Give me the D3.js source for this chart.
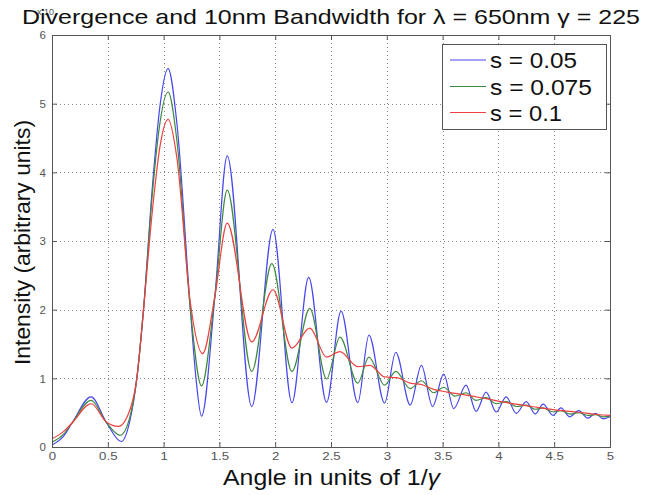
<!DOCTYPE html>
<html>
<head>
<meta charset="utf-8">
<script src="https://cdn.jsdelivr.net/npm/d3@7"></script>
<style>
  html, body { margin: 0; padding: 0; background: #fff; }
  svg { display: block; font-family: "Liberation Sans", Arial, sans-serif; }
</style>
</head>
<body>
<svg id="chart" width="646" height="495"></svg>
<script>
// Axis ticks
const xTicks = [0, 0.5, 1, 1.5, 2, 2.5, 3, 3.5, 4, 4.5, 5];
const xTickLabels = ["0", "0.5", "1", "1.5", "2", "2.5", "3", "3.5", "4", "4.5", "5"];
const yTicks = [0, 1, 2, 3, 4, 5, 6];
const yTickLabels = ["0", "1", "2", "3", "4", "5", "6"];

// Series names
const seriesNames = ["s = 0.05", "s = 0.075", "s = 0.1"];

// Intensity vs angle (units of 1/gamma), [angle, intensity]
const s005 = [
  [0, 0.03], [0.1, 0.15], [0.18, 0.35], [0.35, 0.73], [0.49, 0.35], [0.62, 0.08],
  [0.7, 0.4], [0.76, 1.0], [0.82, 2.0], [0.9, 3.8], [0.97, 5.0], [1.04, 5.51],
  [1.12, 4.7], [1.24, 2.0], [1.29, 1.0], [1.34, 0.45], [1.46, 2.2], [1.57, 4.24],
  [1.79, 0.59], [1.98, 3.17], [2.15, 0.645], [2.30, 2.47], [2.46, 0.65], [2.59, 1.98],
  [2.74, 0.645], [2.84, 1.63], [2.98, 0.64], [3.08, 1.38], [3.21, 0.61], [3.31, 1.19],
  [3.41, 0.59], [3.51, 1.06], [3.60, 0.56], [3.71, 0.90], [3.80, 0.52], [3.89, 0.80],
  [3.98, 0.51], [4.07, 0.73], [4.16, 0.49], [4.25, 0.66], [4.33, 0.48], [4.40, 0.625],
  [4.49, 0.46], [4.56, 0.57], [4.64, 0.44], [4.72, 0.53], [4.80, 0.42], [4.87, 0.49],
  [4.94, 0.41], [5.0, 0.44]
];
const s0075 = [
  [0, 0.07], [0.1, 0.18], [0.18, 0.35], [0.35, 0.68], [0.49, 0.35], [0.61, 0.17],
  [0.7, 0.45], [0.76, 1.0], [0.82, 2.0], [0.9, 3.7], [0.97, 4.75], [1.04, 5.17],
  [1.12, 4.45], [1.24, 2.0], [1.34, 0.89], [1.46, 2.2], [1.57, 3.74], [1.79, 1.10],
  [1.97, 2.67], [2.15, 1.10], [2.31, 2.02], [2.46, 0.99], [2.58, 1.60], [2.74, 0.93],
  [2.84, 1.31], [2.98, 0.90], [3.08, 1.10], [3.21, 0.85], [3.31, 0.965], [3.42, 0.79],
  [3.51, 0.87], [3.61, 0.74], [3.71, 0.79], [3.80, 0.68], [3.89, 0.72], [3.98, 0.63],
  [4.07, 0.66], [4.16, 0.59], [4.25, 0.61], [4.33, 0.55], [4.40, 0.57], [4.49, 0.51],
  [4.56, 0.53], [4.64, 0.48], [4.72, 0.50], [4.80, 0.46], [4.87, 0.47], [4.94, 0.44],
  [5.0, 0.45]
];
const s01 = [
  [0, 0.12], [0.1, 0.22], [0.18, 0.35], [0.35, 0.63], [0.49, 0.36], [0.595, 0.30],
  [0.7, 0.55], [0.76, 1.0], [0.82, 2.0], [0.9, 3.45], [0.97, 4.4], [1.04, 4.77],
  [1.12, 4.2], [1.24, 2.1], [1.35, 1.36], [1.46, 2.2], [1.57, 3.26], [1.79, 1.53],
  [1.98, 2.29], [2.15, 1.44], [2.31, 1.73], [2.46, 1.31], [2.58, 1.39], [2.74, 1.17],
  [2.85, 1.19], [2.98, 1.02], [3.09, 1.01], [3.21, 0.93], [3.31, 0.91], [3.42, 0.84],
  [3.54, 0.80], [3.7, 0.76], [3.9, 0.70], [4.1, 0.64], [4.3, 0.59], [4.5, 0.54],
  [4.7, 0.51], [4.9, 0.47], [5.0, 0.46]
];

const seriesData = [s005, s0075, s01];
const seriesColors = ["#4646ee", "#3f8a3f", "#ee4040"];

const svg = d3.select("#chart");
const plotLeft = 52, plotRight = 610, plotTop = 35, plotBottom = 447;

const x = d3.scaleLinear().domain([0, 5]).range([plotLeft, plotRight]);
const y = d3.scaleLinear().domain([0, 6]).range([plotBottom, plotTop]);

// stretch a text node horizontally to a target length
function fitText(sel, target) {
  sel.each(function () {
    const len = typeof target === "function" ? target(this.getComputedTextLength()) : target;
    d3.select(this).attr("textLength", len).attr("lengthAdjust", "spacingAndGlyphs");
  });
}

// dotted grid
const grid = svg.append("g").attr("stroke", "#8a8a8a").attr("stroke-width", 1)
  .attr("stroke-dasharray", "1,3");
grid.selectAll("line.gx").data(xTicks.slice(1, -1)).join("line").attr("class", "gx")
  .attr("x1", d => Math.round(x(d)) + 0.5).attr("x2", d => Math.round(x(d)) + 0.5)
  .attr("y1", plotTop).attr("y2", plotBottom);
grid.selectAll("line.gy").data(yTicks.slice(1, -1)).join("line").attr("class", "gy")
  .attr("y1", d => Math.round(y(d)) + 0.5).attr("y2", d => Math.round(y(d)) + 0.5)
  .attr("x1", plotLeft).attr("x2", plotRight);

// curves
const line = d3.line().x(d => x(d[0])).y(d => y(d[1])).curve(d3.curveMonotoneX);
svg.append("g").selectAll("path").data(seriesData).join("path")
  .attr("d", line).attr("fill", "none")
  .attr("stroke", (d, i) => seriesColors[i]).attr("stroke-width", 1.2);

// axes with inward ticks on all four sides
const axisColor = "#555";
const gb = svg.append("g").attr("transform", `translate(0,${plotBottom})`)
  .call(d3.axisBottom(x).tickValues(xTicks).tickSize(-5).tickPadding(5)
    .tickFormat((d, i) => xTickLabels[i]));
const gt = svg.append("g").attr("transform", `translate(0,${plotTop})`)
  .call(d3.axisTop(x).tickValues(xTicks).tickSize(-5).tickFormat(""));
const gl = svg.append("g").attr("transform", `translate(${plotLeft},0)`)
  .call(d3.axisLeft(y).tickValues(yTicks).tickSize(-5).tickPadding(6)
    .tickFormat((d, i) => yTickLabels[i]));
const gr = svg.append("g").attr("transform", `translate(${plotRight},0)`)
  .call(d3.axisRight(y).tickValues(yTicks).tickSize(-5).tickFormat(""));
[gb, gt, gl, gr].forEach(g => {
  g.select(".domain").remove();
  g.selectAll(".tick line").attr("stroke", axisColor);
  g.selectAll("text").attr("fill", "#555").attr("font-size", 11.5)
    .attr("font-family", "Liberation Sans, Arial, sans-serif");
});
gb.selectAll("text").call(fitText, n => n * 1.15);

svg.append("rect").attr("x", plotLeft + 0.5).attr("y", plotTop + 0.5)
  .attr("width", plotRight - plotLeft).attr("height", plotBottom - plotTop)
  .attr("fill", "none").attr("stroke", axisColor).attr("stroke-width", 1);

// exponent marker
svg.append("text").attr("x", 37).attr("y", 15).attr("font-size", 9).attr("fill", "#555")
  .text("x 10");

// title
svg.append("text").attr("x", 22).attr("y", 24).attr("font-size", 21).attr("fill", "#111")
  .text("Divergence and 10nm Bandwidth for λ = 650nm γ = 225")
  .call(fitText, 618);

// axis labels
const xl = svg.append("text").attr("x", 223).attr("y", 485).attr("font-size", 22).attr("fill", "#111");
xl.append("tspan").text("Angle in units of 1/");
xl.append("tspan").attr("font-style", "italic").text("γ");
xl.call(fitText, 217);
svg.append("text").attr("transform", "translate(30,365) rotate(-90)")
  .attr("font-size", 22).attr("fill", "#111")
  .text("Intensity (arbitrary units)").call(fitText, 245);

// legend
const lg = svg.append("g");
lg.append("rect").attr("x", 442.5).attr("y", 44.5).attr("width", 164).attr("height", 85)
  .attr("fill", "#fff").attr("stroke", axisColor);
const legendY = [60, 86.5, 112.5];
const legendW = [87, 102, 72];
seriesNames.forEach((name, i) => {
  lg.append("line").attr("x1", 450).attr("x2", 486)
    .attr("y1", legendY[i]).attr("y2", legendY[i])
    .attr("stroke", seriesColors[i]).attr("stroke-width", 1.2);
  lg.append("text").attr("x", 490).attr("y", legendY[i] + 8)
    .attr("font-size", 22).attr("fill", "#111").text(name)
    .call(fitText, legendW[i]);
});
</script>
</body>
</html>
